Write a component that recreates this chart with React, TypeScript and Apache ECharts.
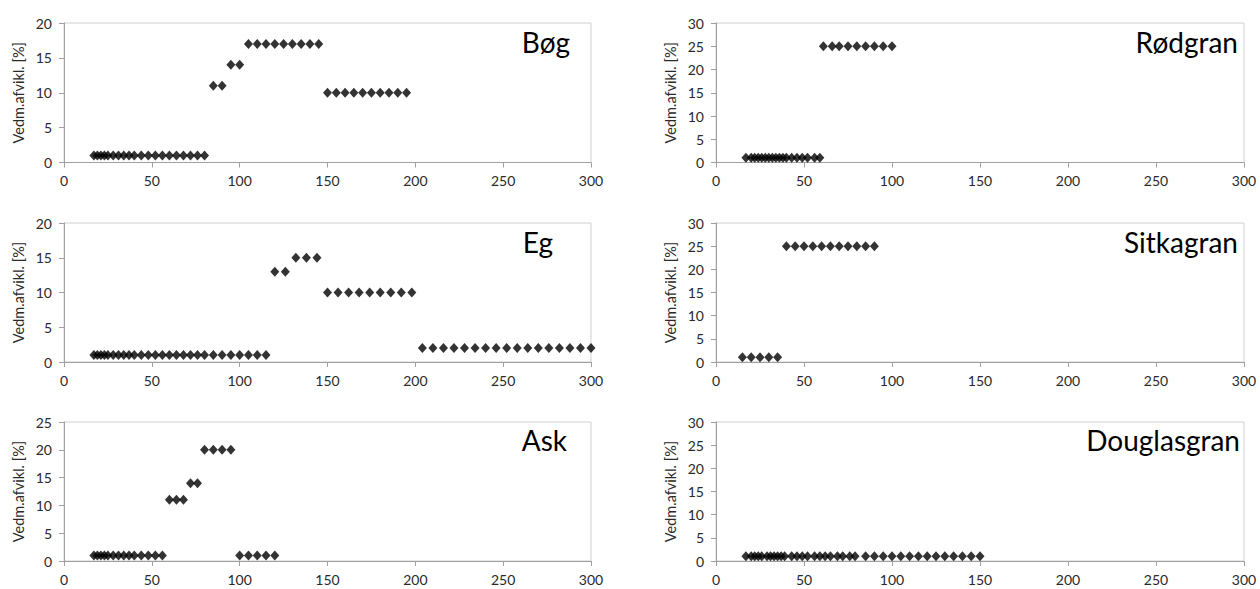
import React, { useEffect, useRef } from "react";
import * as echarts from "echarts";

// Stand age (years) and volume share [%] per tree species
const bogAge = [17, 19, 21, 23, 25, 28, 31, 34, 37, 40, 44, 48, 52, 56, 60, 64, 68, 72, 76, 80, 85, 90, 95, 100, 105, 110, 115, 120, 125, 130, 135, 140, 145, 150, 155, 160, 165, 170, 175, 180, 185, 190, 195];
const bogPct = [1, 1, 1, 1, 1, 1, 1, 1, 1, 1, 1, 1, 1, 1, 1, 1, 1, 1, 1, 1, 11, 11, 14, 14, 17, 17, 17, 17, 17, 17, 17, 17, 17, 10, 10, 10, 10, 10, 10, 10, 10, 10, 10];

const egAge = [17, 19, 21, 23, 25, 28, 31, 34, 37, 40, 44, 48, 52, 56, 60, 64, 68, 72, 76, 80, 85, 90, 95, 100, 105, 110, 115, 120, 126, 132, 138, 144, 150, 156, 162, 168, 174, 180, 186, 192, 198, 204, 210, 216, 222, 228, 234, 240, 246, 252, 258, 264, 270, 276, 282, 288, 294, 300];
const egPct = [1, 1, 1, 1, 1, 1, 1, 1, 1, 1, 1, 1, 1, 1, 1, 1, 1, 1, 1, 1, 1, 1, 1, 1, 1, 1, 1, 13, 13, 15, 15, 15, 10, 10, 10, 10, 10, 10, 10, 10, 10, 2, 2, 2, 2, 2, 2, 2, 2, 2, 2, 2, 2, 2, 2, 2, 2, 2];

const askAge = [17, 19, 21, 23, 25, 28, 31, 34, 37, 40, 44, 48, 52, 56, 60, 64, 68, 72, 76, 80, 85, 90, 95, 100, 105, 110, 115, 120];
const askPct = [1, 1, 1, 1, 1, 1, 1, 1, 1, 1, 1, 1, 1, 1, 11, 11, 11, 14, 14, 20, 20, 20, 20, 1, 1, 1, 1, 1];

const rodAge = [17, 20, 22, 24, 26, 28, 30, 32, 34, 36, 38, 40, 43, 46, 49, 52, 56, 59, 61, 66, 70, 75, 80, 85, 90, 95, 100];
const rodPct = [1, 1, 1, 1, 1, 1, 1, 1, 1, 1, 1, 1, 1, 1, 1, 1, 1, 1, 25, 25, 25, 25, 25, 25, 25, 25, 25];

const sitAge = [15, 20, 25, 30, 35, 40, 45, 50, 55, 60, 65, 70, 75, 80, 85, 90];
const sitPct = [1, 1, 1, 1, 1, 25, 25, 25, 25, 25, 25, 25, 25, 25, 25, 25];

const dougAge = [17, 20, 22, 24, 26, 29, 31, 33, 35, 37, 39, 43, 46, 49, 52, 56, 59, 62, 65, 69, 72, 76, 79, 85, 90, 95, 100, 105, 110, 115, 120, 125, 130, 135, 140, 145, 150];
const dougPct = [1, 1, 1, 1, 1, 1, 1, 1, 1, 1, 1, 1, 1, 1, 1, 1, 1, 1, 1, 1, 1, 1, 1, 1, 1, 1, 1, 1, 1, 1, 1, 1, 1, 1, 1, 1, 1];

const species = ["Bøg", "Eg", "Ask", "Rødgran", "Sitkagran", "Douglasgran"];
const yMax = [20, 20, 25, 30, 30, 30];
const yAxisName = "Vedm.afvikl. [%]";
const xMax = 300;

const panels = [
  { age: bogAge, pct: bogPct },
  { age: egAge, pct: egPct },
  { age: askAge, pct: askPct },
  { age: rodAge, pct: rodPct },
  { age: sitAge, pct: sitPct },
  { age: dougAge, pct: dougPct },
];

// Layout of the 3x2 panel grid
const colLeft = [64, 716];
const colWidth = [527, 528];
const rowTop = [23, 223, 422];
const rowHeight = [139.5, 139, 139];
const titleRight = [570, 553, 567, 1238, 1238, 1240];
const titleY = [42, 242, 440, 42, 242, 440];

const FONT = "Lato, 'Open Sans', sans-serif";

export default function App() {
  const ref = useRef<HTMLDivElement>(null);

  useEffect(() => {
    if (!ref.current) return;
    const chart = echarts.init(ref.current, null, { renderer: "svg" });

    const grid: any[] = [];
    const xAxis: any[] = [];
    const yAxis: any[] = [];
    const series: any[] = [];
    const graphic: any[] = [];

    panels.forEach((p, i) => {
      const col = i < 3 ? 0 : 1;
      const row = i % 3;
      grid.push({
        left: colLeft[col],
        top: rowTop[row],
        width: colWidth[col],
        height: rowHeight[row],
        show: true,
        borderColor: "#d0d0d0",
        borderWidth: 1,
        backgroundColor: "transparent",
        containLabel: false,
      });
      xAxis.push({
        type: "value",
        gridIndex: i,
        min: 0,
        max: xMax,
        interval: 50,
        splitLine: { show: false },
        axisLine: { show: true, onZero: false, lineStyle: { color: "#a0a0a0", width: 1 } },
        axisTick: { show: true, length: 5, lineStyle: { color: "#a0a0a0" } },
        axisLabel: { color: "#2a2a2a", fontSize: 14, fontFamily: FONT, margin: 11 },
      });
      yAxis.push({
        type: "value",
        gridIndex: i,
        min: 0,
        max: yMax[i],
        interval: 5,
        name: yAxisName,
        nameLocation: "middle",
        nameGap: 38,
        nameTextStyle: { color: "#2a2a2a", fontSize: 14.5, fontFamily: FONT },
        splitLine: { show: false },
        axisLine: { show: true, lineStyle: { color: "#a0a0a0", width: 1 } },
        axisTick: { show: true, length: 5, lineStyle: { color: "#a0a0a0" } },
        axisLabel: { color: "#2a2a2a", fontSize: 14, fontFamily: FONT, margin: 12 },
      });
      series.push({
        type: "scatter",
        name: species[i],
        xAxisIndex: i,
        yAxisIndex: i,
        symbol: "diamond",
        symbolSize: [9, 10],
        itemStyle: { color: "#000" },
        data: p.age.map((a, k) => [a, p.pct[k]]),
      });
      graphic.push({
        type: "text",
        x: titleRight[i],
        y: titleY[i],
        style: {
          text: species[i],
          fill: "#000",
          font: `28px ${FONT}`,
          textAlign: "right",
          textVerticalAlign: "middle",
        },
      });
    });

    chart.setOption({
      animation: false,
      backgroundColor: "#fff",
      grid,
      xAxis,
      yAxis,
      series,
      graphic,
    });

    return () => chart.dispose();
  }, []);

  return (
    <div
      ref={ref}
      style={{ position: "fixed", left: 0, top: 0, width: 1260, height: 589, background: "#fff" }}
    />
  );
}
